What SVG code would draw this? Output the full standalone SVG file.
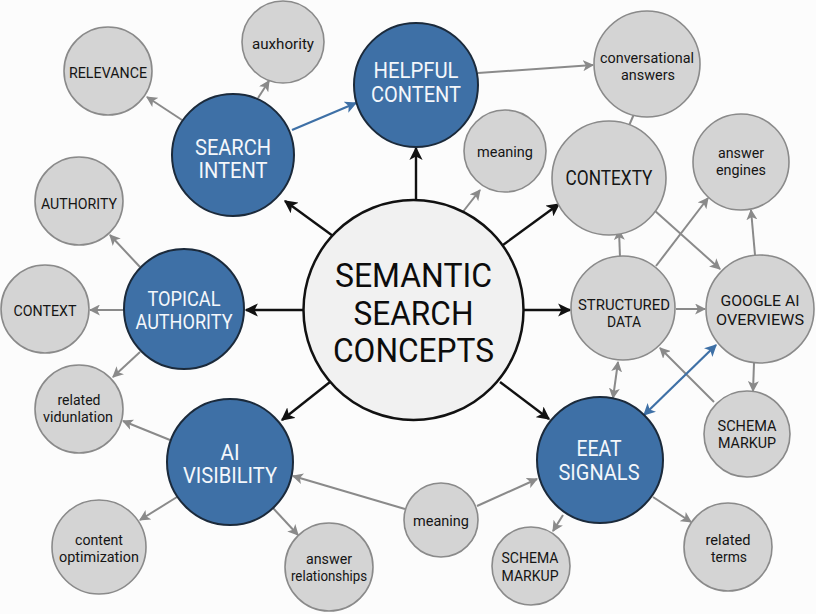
<svg xmlns="http://www.w3.org/2000/svg" width="816" height="614" viewBox="0 0 816 614">
<style>
.bg{fill:#fcfcfc}
.hub{fill:#3e70a6;stroke:#1b2a3b;stroke-width:2}
.leaf{fill:#d4d4d4;stroke:#8a8a8a;stroke-width:1.6}
.core{fill:#f1f1f1;stroke:#111;stroke-width:2.5}
text{font-family:Roboto,"Liberation Sans",sans-serif;text-anchor:middle}
.ht{fill:#f4f7fb;font-size:22px}
.lt{fill:#151515;font-size:15px}
.ct{fill:#0c0c0c;font-size:34px}
.k{stroke:#111;stroke-width:2.4;fill:none;marker-end:url(#ak)}
.g{stroke:#8a8a8a;stroke-width:2;fill:none;marker-end:url(#ag)}
.g2{stroke:#8a8a8a;stroke-width:2;fill:none;marker-end:url(#ag);marker-start:url(#ag)}
.gn{stroke:#8a8a8a;stroke-width:2;fill:none}
.b{stroke:#3e70a6;stroke-width:2.2;fill:none;marker-end:url(#ab)}
.b2{stroke:#3e70a6;stroke-width:2.2;fill:none;marker-end:url(#ab);marker-start:url(#ab)}
</style>
<defs>
<marker id="ak" viewBox="0 0 10 10" refX="9" refY="5" markerWidth="5.5" markerHeight="5.5" orient="auto-start-reverse"><path d="M0,0 L10,5 L0,10 L2.5,5 z" fill="#111"/></marker>
<marker id="ag" viewBox="0 0 10 10" refX="9" refY="5" markerWidth="5.5" markerHeight="5.5" orient="auto-start-reverse"><path d="M0,0 L10,5 L0,10 L2.5,5 z" fill="#8a8a8a"/></marker>
<marker id="ab" viewBox="0 0 10 10" refX="9" refY="5" markerWidth="5.5" markerHeight="5.5" orient="auto-start-reverse"><path d="M0,0 L10,5 L0,10 L2.5,5 z" fill="#3e70a6"/></marker>
</defs>
<rect class="bg" x="0" y="0" width="816" height="614"/>

<g id="connectors">
<line class="k" x1="333" y1="236" x2="285" y2="201"/>
<line class="k" x1="416" y1="199" x2="416" y2="148"/>
<line class="k" x1="503" y1="245" x2="559" y2="204"/>
<line class="k" x1="524" y1="310" x2="570" y2="310"/>
<line class="k" x1="500" y1="382" x2="549" y2="419"/>
<line class="k" x1="303" y1="310" x2="246" y2="310"/>
<line class="k" x1="330" y1="382" x2="282" y2="420"/>
<line class="g" x1="462" y1="213" x2="480" y2="190"/>
<line class="g" x1="182" y1="120" x2="147" y2="97"/>
<line class="g" x1="258" y1="98" x2="269" y2="81"/>
<line class="g" x1="478" y1="73" x2="593" y2="65"/>
<line class="gn" x1="628" y1="128" x2="634" y2="114"/>
<line class="g" x1="620" y1="257" x2="619" y2="230"/>
<line class="g" x1="656" y1="266" x2="708" y2="198"/>
<line class="g" x1="654" y1="210" x2="720" y2="269"/>
<line class="g" x1="755" y1="255" x2="751" y2="210"/>
<line class="g" x1="676" y1="309" x2="705" y2="309"/>
<line class="g" x1="754" y1="363" x2="753" y2="391"/>
<line class="g" x1="714" y1="402" x2="660" y2="348"/>
<line class="g2" x1="618" y1="362" x2="613" y2="398"/>
<line class="g" x1="563" y1="515" x2="553" y2="531"/>
<line class="g" x1="653" y1="497" x2="691" y2="522"/>
<line class="g" x1="477" y1="506" x2="537" y2="479"/>
<line class="g" x1="405" y1="509" x2="293" y2="476"/>
<line class="g" x1="170" y1="440" x2="123" y2="421"/>
<line class="g" x1="177" y1="497" x2="140" y2="520"/>
<line class="g" x1="273" y1="508" x2="298" y2="535"/>
<line class="g" x1="140" y1="267" x2="110" y2="235"/>
<line class="g" x1="124" y1="310" x2="90" y2="310"/>
<line class="g" x1="140" y1="352" x2="113" y2="377"/>
<line class="b" x1="292" y1="130" x2="356" y2="103"/>
<line class="b2" x1="716" y1="345" x2="644" y2="415"/>
</g>

<g id="core"><circle class="core" cx="413.5" cy="310" r="110"/>
<text class="ct" x="413.5" y="287" textLength="157" lengthAdjust="spacingAndGlyphs">SEMANTIC</text>
<text class="ct" x="413.5" y="325" textLength="120" lengthAdjust="spacingAndGlyphs">SEARCH</text>
<text class="ct" x="413.5" y="362" textLength="161" lengthAdjust="spacingAndGlyphs">CONCEPTS</text></g>

<g id="search-intent"><circle class="hub" cx="233" cy="155" r="61"/>
<text class="ht" x="233" y="155" textLength="76" lengthAdjust="spacingAndGlyphs">SEARCH</text>
<text class="ht" x="233" y="178" textLength="69" lengthAdjust="spacingAndGlyphs">INTENT</text></g>

<g id="helpful-content"><circle class="hub" cx="416" cy="85" r="62"/>
<text class="ht" x="416" y="78" textLength="85" lengthAdjust="spacingAndGlyphs">HELPFUL</text>
<text class="ht" x="416" y="102" textLength="90" lengthAdjust="spacingAndGlyphs">CONTENT</text></g>

<g id="topical-authority"><circle class="hub" cx="184" cy="309" r="60"/>
<text class="ht" x="184" y="306" style="font-size:20px" textLength="73" lengthAdjust="spacingAndGlyphs">TOPICAL</text>
<text class="ht" x="184" y="329" style="font-size:20px" textLength="97" lengthAdjust="spacingAndGlyphs">AUTHORITY</text></g>

<g id="ai-visibility"><circle class="hub" cx="230" cy="462" r="63"/>
<text class="ht" x="230" y="460" textLength="19" lengthAdjust="spacingAndGlyphs">AI</text>
<text class="ht" x="230" y="483" textLength="94" lengthAdjust="spacingAndGlyphs">VISIBILITY</text></g>

<g id="eeat-signals"><circle class="hub" cx="600" cy="460" r="63"/>
<text class="ht" x="599" y="456" textLength="45" lengthAdjust="spacingAndGlyphs">EEAT</text>
<text class="ht" x="599" y="480" textLength="81" lengthAdjust="spacingAndGlyphs">SIGNALS</text></g>

<g id="relevance"><circle class="leaf" cx="108" cy="71" r="44"/>
<text class="lt" x="108" y="78" textLength="78" lengthAdjust="spacingAndGlyphs">RELEVANCE</text></g>

<g id="auxhority"><circle class="leaf" cx="283" cy="42" r="41"/>
<text class="lt" x="283" y="49" textLength="62" lengthAdjust="spacingAndGlyphs">auxhority</text></g>

<g id="authority"><circle class="leaf" cx="79" cy="201" r="44"/>
<text class="lt" x="79" y="209" textLength="76" lengthAdjust="spacingAndGlyphs">AUTHORITY</text></g>

<g id="context-left"><circle class="leaf" cx="45" cy="309" r="44"/>
<text class="lt" x="45" y="316" textLength="63" lengthAdjust="spacingAndGlyphs">CONTEXT</text></g>

<g id="related-vidunlation"><circle class="leaf" cx="79" cy="409" r="44"/>
<text class="lt" x="79" y="405" textLength="43" lengthAdjust="spacingAndGlyphs">related</text>
<text class="lt" x="78" y="422" textLength="70" lengthAdjust="spacingAndGlyphs">vidunlation</text></g>

<g id="content-optimization"><circle class="leaf" cx="99" cy="547" r="47"/>
<text class="lt" x="99" y="545" textLength="48" lengthAdjust="spacingAndGlyphs">content</text>
<text class="lt" x="99" y="562" textLength="80" lengthAdjust="spacingAndGlyphs">optimization</text></g>

<g id="answer-relationships"><circle class="leaf" cx="329" cy="567" r="44"/>
<text class="lt" x="329" y="564" textLength="46" lengthAdjust="spacingAndGlyphs">answer</text>
<text class="lt" x="329" y="581" textLength="76" lengthAdjust="spacingAndGlyphs">relationships</text></g>

<g id="meaning-bottom"><circle class="leaf" cx="441" cy="520" r="37"/>
<text class="lt" x="441" y="526" textLength="56" lengthAdjust="spacingAndGlyphs">meaning</text></g>

<g id="schema-markup-bottom"><circle class="leaf" cx="531" cy="566" r="39"/>
<text class="lt" x="530" y="563" textLength="57" lengthAdjust="spacingAndGlyphs">SCHEMA</text>
<text class="lt" x="530" y="581" textLength="57" lengthAdjust="spacingAndGlyphs">MARKUP</text></g>

<g id="related-terms"><circle class="leaf" cx="728" cy="547" r="44"/>
<text class="lt" x="728" y="545" textLength="45" lengthAdjust="spacingAndGlyphs">related</text>
<text class="lt" x="729" y="562" textLength="36" lengthAdjust="spacingAndGlyphs">terms</text></g>

<g id="schema-markup-right"><circle class="leaf" cx="747" cy="434" r="43"/>
<text class="lt" x="747" y="431" textLength="59" lengthAdjust="spacingAndGlyphs">SCHEMA</text>
<text class="lt" x="747" y="448" textLength="58" lengthAdjust="spacingAndGlyphs">MARKUP</text></g>

<g id="structured-data"><circle class="leaf" cx="623" cy="308" r="52"/>
<text class="lt" x="624" y="310" textLength="92" lengthAdjust="spacingAndGlyphs">STRUCTURED</text>
<text class="lt" x="624" y="327" textLength="34" lengthAdjust="spacingAndGlyphs">DATA</text></g>

<g id="google-ai-overviews"><circle class="leaf" cx="760" cy="309" r="54"/>
<text class="lt" x="760" y="306" textLength="79" lengthAdjust="spacingAndGlyphs">GOOGLE AI</text>
<text class="lt" x="760" y="325" textLength="88" lengthAdjust="spacingAndGlyphs">OVERVIEWS</text></g>

<g id="conversational-answers"><circle class="leaf" cx="647" cy="64" r="53"/>
<text class="lt" x="647" y="63" textLength="94" lengthAdjust="spacingAndGlyphs">conversational</text>
<text class="lt" x="648" y="80" textLength="54" lengthAdjust="spacingAndGlyphs">answers</text></g>

<g id="meaning-top"><circle class="leaf" cx="505" cy="151" r="41"/>
<text class="lt" x="505" y="157" textLength="56" lengthAdjust="spacingAndGlyphs">meaning</text></g>

<g id="contexty"><circle class="leaf" cx="609" cy="178" r="57"/>
<text class="lt" x="609" y="185" style="font-size:21px" textLength="87" lengthAdjust="spacingAndGlyphs">CONTEXTY</text></g>

<g id="answer-engines"><circle class="leaf" cx="741" cy="162" r="48"/>
<text class="lt" x="741" y="158" textLength="46" lengthAdjust="spacingAndGlyphs">answer</text>
<text class="lt" x="741" y="175" textLength="50" lengthAdjust="spacingAndGlyphs">engines</text></g>
</svg>
